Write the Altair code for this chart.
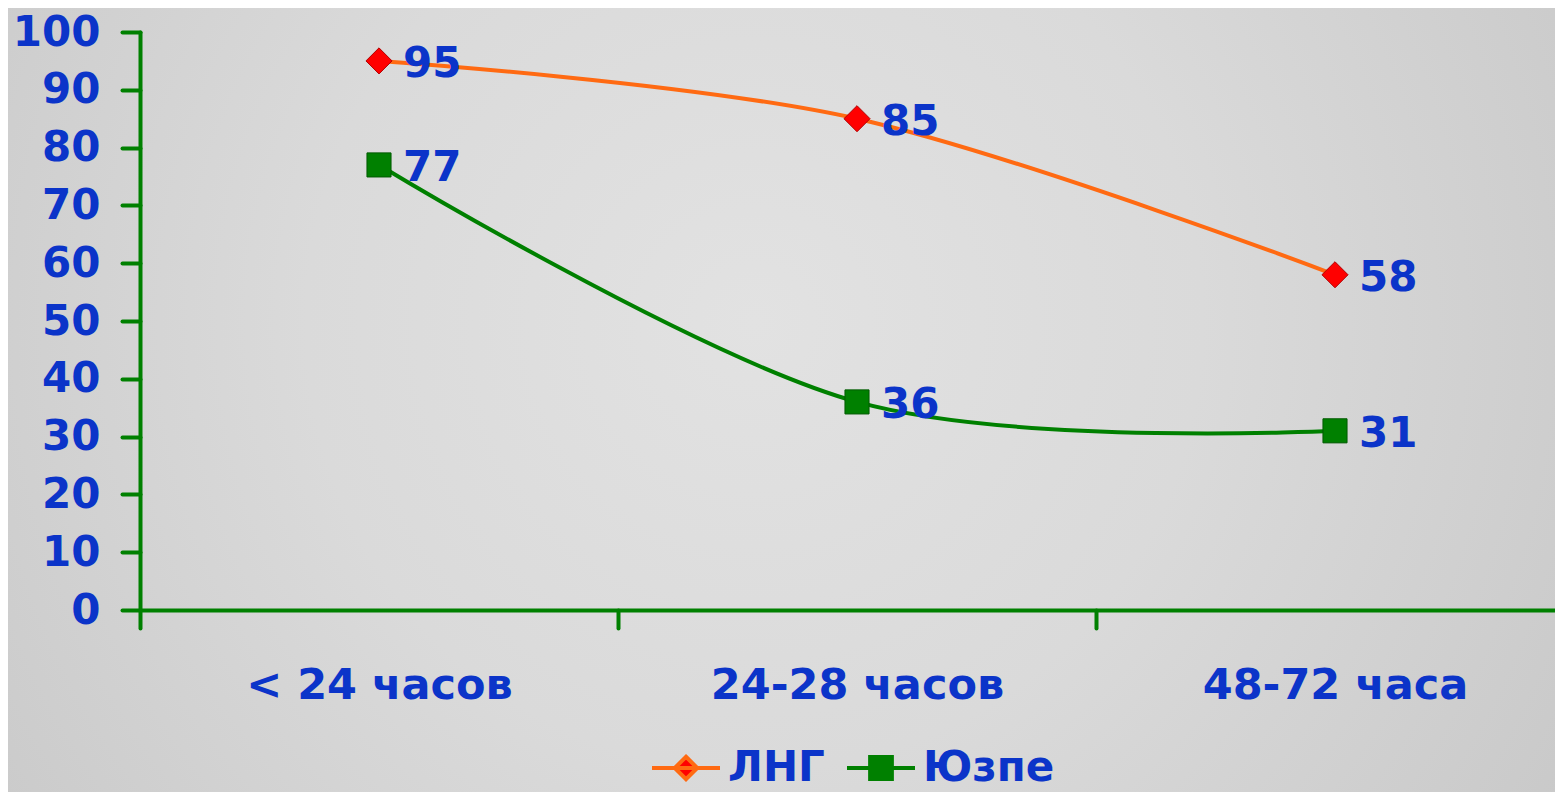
import altair as alt
import pandas as pd

categories = ["< 24 часов", "24-28 часов", "48-72 часа"]
series_names = ["ЛНГ", "Юзпе"]
lng_values = [95, 85, 58]
yuzpe_values = [77, 36, 31]

rows = []
for c, v in zip(categories, lng_values):
    rows.append({"period": c, "series": series_names[0], "value": v})
for c, v in zip(categories, yuzpe_values):
    rows.append({"period": c, "series": series_names[1], "value": v})
df = pd.DataFrame(rows)

FONT = "DejaVu Sans"
BLUE = "#0b34c9"
GREEN = "#008000"
ORANGE = "#ff6a12"
RED = "#ff0000"

line_marker_diamond = "M-1,0H1M0,-0.33L0.33,0L0,0.33L-0.33,0Z"
line_marker_square = "M-1,0H1M-0.32,-0.32H0.32V0.32H-0.32Z"

x_enc = alt.X(
    "period:N",
    sort=categories,
    bandPosition=0.5,
    scale=alt.Scale(type="band", range=[0, 1434], paddingInner=0, paddingOuter=0),
    axis=alt.Axis(title=None, tickBand="extent", labelAngle=0, labelPadding=36,
                  labelFontSize=43, labelLimit=0, zindex=2),
)
y_enc = alt.Y(
    "value:Q",
    scale=alt.Scale(domain=[0, 100], nice=False),
    axis=alt.Axis(title=None, values=list(range(0, 101, 10)), grid=False,
                  labelPadding=22, labelFontSize=42, zindex=2),
)

base = alt.Chart(df)
lng = base.transform_filter(alt.datum.series == series_names[0])
yuz = base.transform_filter(alt.datum.series == series_names[1])

bg = alt.Chart(alt.Data(values=[{"a": 1}])).mark_rect(
    fill=alt.Gradient(
        gradient="radial",
        stops=[alt.GradientStop(color="#e2e2e2", offset=0),
               alt.GradientStop(color="#dadada", offset=0.4),
               alt.GradientStop(color="#c3c3c3", offset=1)],
        x1=0.48, y1=0.45, x2=0.48, y2=0.45, r1=0, r2=0.72,
    )
).encode(x=alt.value(-132), x2=alt.value(1423), y=alt.value(-24), y2=alt.value(760))

line_lng = lng.mark_line(interpolate="cardinal", strokeWidth=4, color=ORANGE).encode(x=x_enc, y=y_enc)
line_yuz = yuz.mark_line(interpolate="cardinal", strokeWidth=4, color=GREEN).encode(x=x_enc, y=y_enc)

pts_lng = lng.mark_point(
    shape="diamond", filled=True, fill=RED, stroke="#b00000", strokeWidth=1, size=680, opacity=1
).encode(x=x_enc, y=y_enc)

pts_yuz = yuz.mark_point(
    shape="square", filled=True, fill=GREEN, stroke="#005a00", strokeWidth=1, size=580, opacity=1
).encode(x=x_enc, y=y_enc)

labels = base.mark_text(
    align="left", baseline="middle", dx=24, dy=3, font=FONT, fontSize=42,
    fontWeight="bold", color=BLUE
).encode(x=x_enc, y=y_enc, text="value:Q")

leg = alt.Legend(
    orient="none", legendX=510, legendY=700, direction="horizontal", title=None,
    labelFont=FONT, labelFontSize=42, labelFontWeight="bold", labelColor=BLUE,
    symbolSize=4624, symbolStrokeWidth=4, symbolOpacity=1, labelOffset=6,
    columnPadding=14, zindex=2, labelLimit=0,
)

legend_layer = base.mark_point(opacity=0).encode(
    x=x_enc, y=y_enc,
    stroke=alt.Stroke("series:N", scale=alt.Scale(domain=series_names, range=[ORANGE, GREEN]), legend=leg),
    fill=alt.Fill("series:N", scale=alt.Scale(domain=series_names, range=[RED, GREEN]), legend=leg),
    shape=alt.Shape("series:N", scale=alt.Scale(domain=series_names, range=[line_marker_diamond, line_marker_square]), legend=leg),
)

chart = alt.layer(bg, line_lng, line_yuz, pts_lng, pts_yuz, labels, legend_layer).properties(
    width=1415, height=578,
    autosize="none",
    padding={"left": 132, "top": 24, "right": 0, "bottom": 182},
    background="#cccccc",
).configure_view(stroke=None).configure_axis(
    domainColor=GREEN, domainWidth=4, domainCap="round",
    tickColor=GREEN, tickWidth=4, tickSize=18, tickCap="round",
    labelFont=FONT, labelFontWeight="bold", labelColor=BLUE,
)

chart.save("out.html", embed_options={"renderer": "svg", "actions": False})
